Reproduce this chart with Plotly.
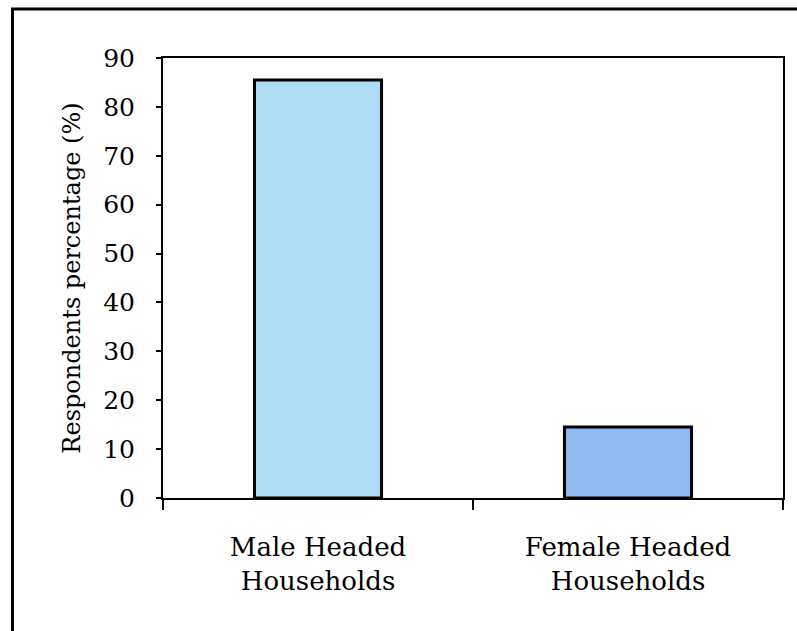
import plotly.graph_objects as go

categories = ["Male Headed<br>Households", "Female Headed<br>Households"]
values = [85.5, 14.5]
bar_colors = ["#addcf4", "#8fb8ed"]
y_ticks = [0, 10, 20, 30, 40, 50, 60, 70, 80, 90]

FONT = "DejaVu Serif"

fig = go.Figure()
fig.add_trace(go.Bar(
    x=categories,
    y=values,
    width=0.41,
    marker=dict(color=bar_colors, line=dict(color="black", width=3)),
    showlegend=False,
))

fig.update_layout(
    width=797,
    height=631,
    margin=dict(l=163, r=12, t=58, b=133),
    paper_bgcolor="white",
    plot_bgcolor="white",
    font=dict(family=FONT, color="black"),
    xaxis=dict(
        showline=True, linecolor="black", linewidth=2, mirror=True,
        ticks="outside", ticklen=10, tickwidth=2, tickcolor="black",
        tickson="boundaries",
        ticklabelstandoff=25,
        tickfont=dict(family=FONT, size=26, color="black"),
        showgrid=False,
    ),
    yaxis=dict(
        range=[0, 90],
        tickvals=y_ticks,
        showline=True, linecolor="black", linewidth=2, mirror=True,
        ticks="outside", ticklen=5, tickwidth=1.5, tickcolor="black",
        ticklabelstandoff=16,
        tickfont=dict(family=FONT, size=25, color="black"),
        showgrid=False, zeroline=False,
        title=dict(text="Respondents percentage (%)",
                   font=dict(family=FONT, size=24, color="black"),
                   standoff=16),
    ),
    shapes=[dict(
        type="rect", xref="paper", yref="paper",
        x0=(12 - 163) / 622, x1=(805 - 163) / 622,
        y0=(498 - 645) / 440, y1=(498 - 9) / 440,
        line=dict(color="black", width=3), fillcolor="rgba(0,0,0,0)",
        layer="above",
    )],
)

fig.write_html("out.html")
